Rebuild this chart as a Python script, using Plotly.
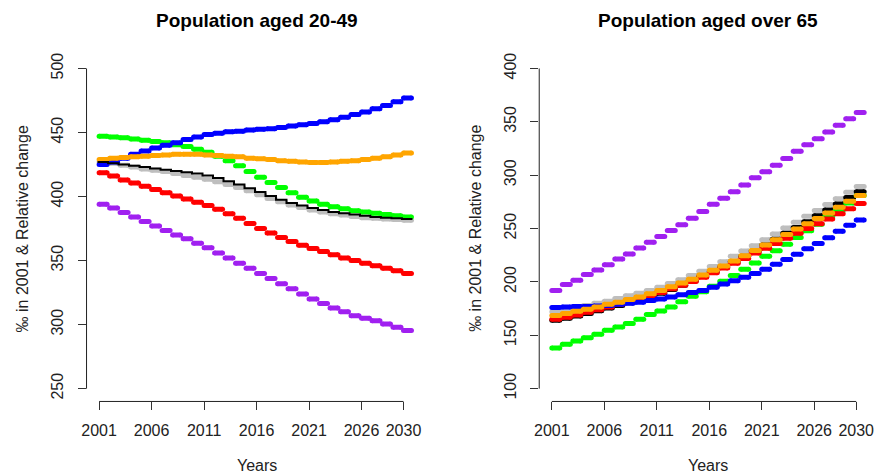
import plotly.graph_objects as go

# Projection years and axis labels
years = list(range(2001, 2031))
x_tickvals = [2001, 2006, 2011, 2016, 2021, 2026, 2030]
y_ticks_young = [250, 300, 350, 400, 450, 500]
y_ticks_old = [100, 150, 200, 250, 300, 350, 400]

# Population aged 20-49 (per mille)
young_gray = [427, 426, 424.5, 423, 421.5, 420.5, 419.5, 418, 416.5, 415, 413.5, 411.5, 409.5, 407, 404.5,
              401.5, 398.5, 396, 393.5, 391.5, 389.5, 388, 386.5, 385.5, 384.5, 383.5, 383, 382.5, 382, 381.5]
young_black = [427, 426, 425, 424, 423, 422, 421, 420, 419, 418, 416.5, 414.5, 412, 409.5, 406.5,
               403.5, 400.5, 397.5, 395, 393, 391, 389.5, 388, 387, 386, 385, 384, 383.5, 383, 382.5]
young_red = [418.5, 416, 413, 410.5, 408, 405.5, 403, 400.5, 398, 395.5, 393, 390, 386.5, 383, 379,
             375, 371.5, 368, 365, 362, 359.5, 357, 354.5, 352, 350, 348, 346, 344, 342, 340]
young_green = [447, 446.5, 446, 445, 444, 443, 442, 440.5, 439, 437, 434.5, 431.5, 428, 424, 419.5,
               415, 411, 407, 403, 399.5, 396.5, 394, 392, 390.5, 389, 388, 387, 386, 385, 384]
young_blue = [425, 427, 430, 433, 435.5, 438, 440, 442, 444.5, 446.5, 448.5, 449.5, 450.5, 451, 452,
              452.5, 453, 454, 455, 456, 457, 458.5, 460, 462, 464, 466, 468.5, 471, 474, 477]
young_orange = [429, 430, 430.5, 431, 431.5, 432, 432.5, 433, 433, 433, 432.5, 432, 431.5, 431, 430,
                429.5, 429, 428, 427.5, 427, 426.5, 426.5, 427, 427.5, 428, 429, 430, 431, 432.5, 434]
young_purple = [394, 391, 387.5, 384, 380.5, 377, 373.5, 370, 367, 363.5, 360, 356, 352, 348, 344,
                340, 336, 332, 328, 324, 320, 316.5, 313, 310, 307, 305, 303, 300.5, 298, 295.5]

# Population aged over 65 (per mille)
old_gray = [172, 174, 176, 178, 180, 182, 184.5, 187, 189.5, 192, 195, 198.5, 202, 206, 210,
            214.5, 219, 224, 229, 234, 239.5, 245, 250.5, 256, 261.5, 267, 272.5, 278, 284, 289.5]
old_black = [164, 166, 168, 170.5, 173, 175.5, 178, 180.5, 183, 186, 189.5, 193, 197, 201, 205,
             209.5, 214, 219, 224, 229, 234.5, 240, 245.5, 251, 256.5, 262, 267.5, 273, 279, 284.5]
old_green = [138, 141.7, 144.7, 147.8, 151, 154.7, 157.8, 161, 165, 169.5, 172.7, 176.5, 181.5, 186.5, 190.7,
             196, 200.6, 206, 212, 217.7, 224, 229.3, 235.4, 241.7, 248, 254, 261, 267, 274, 281]
old_red = [165, 167, 169, 171.5, 174, 176.5, 179, 181.5, 184, 187, 190, 193.5, 197, 200.5, 204.5,
           208.5, 213, 217.5, 222, 227, 231.5, 236, 241, 245.5, 250, 254.5, 259, 264, 268.5, 273.5]
old_blue = [176, 176.5, 177, 177, 177.5, 178, 179, 180, 181, 182.5, 184, 186, 188, 190, 192,
            195, 198, 201, 204.5, 208, 212, 216.5, 221, 226, 231, 236, 241.5, 247.5, 253, 258]
old_orange = [168.5, 170.5, 172.5, 174.5, 176.5, 179, 181, 183.5, 186, 189, 192, 195.5, 199, 202.5, 206.5,
              211, 215, 219.5, 224.5, 229.5, 234.5, 239.5, 244.5, 249.5, 254.5, 259.5, 264.5, 270, 275.5, 281]
old_purple = [192, 197.6, 201.6, 206.9, 211.2, 216.2, 221.4, 226.1, 231.7, 237.3, 242.6, 248.2, 253.5, 259.7, 265.9,
              272.7, 278.3, 284.5, 290.8, 297.6, 303.2, 309.4, 315.6, 322.4, 328.6, 334.2, 340.4, 346.7, 352.9, 358.8]

COL = {"gray": "#BEBEBE", "black": "#000000", "red": "#FF0000", "green": "#00FF00",
       "blue": "#0000FF", "orange": "#FFA500", "purple": "#A020F0"}

LW = 5          # thick step width
STEP = 0.76     # horizontal extent of each yearly step (in years)

fig = go.Figure()


def steps(values, color, xa, ya):
    """One flat dash per year, with round ends made from markers."""
    xs, ys = [], []
    for t, v in zip(years, values):
        xs += [t, t + STEP, None]
        ys += [v, v, None]
    fig.add_trace(go.Scatter(
        x=xs, y=ys, mode="lines+markers", xaxis=xa, yaxis=ya,
        line=dict(color=color, width=LW),
        marker=dict(color=color, size=LW, line=dict(width=0)),
        hoverinfo="skip", showlegend=False))


def thin_step(values, color, xa, ya):
    xs = [t - 0.15 for t in years] + [years[-1] + 0.85]
    ys = list(values) + [values[-1]]
    fig.add_trace(go.Scatter(
        x=xs, y=ys, mode="lines", xaxis=xa, yaxis=ya, line_shape="hv",
        line=dict(color=color, width=2), hoverinfo="skip", showlegend=False))


# Left panel: 20-49
steps(young_gray, COL["gray"], "x", "y")
steps(young_red, COL["red"], "x", "y")
steps(young_green, COL["green"], "x", "y")
steps(young_blue, COL["blue"], "x", "y")
steps(young_purple, COL["purple"], "x", "y")
steps(young_orange, COL["orange"], "x", "y")
thin_step(young_black, COL["black"], "x", "y")

# Right panel: over 65
steps(old_gray, COL["gray"], "x2", "y2")
steps(old_black, COL["black"], "x2", "y2")
steps(old_green, COL["green"], "x2", "y2")
steps(old_red, COL["red"], "x2", "y2")
steps(old_blue, COL["blue"], "x2", "y2")
steps(old_orange, COL["orange"], "x2", "y2")
steps(old_purple, COL["purple"], "x2", "y2")

W, H = 876, 475
FONT = "Liberation Sans, Arial, sans-serif"
TICKFONT = dict(family=FONT, size=16, color="#222")

xcommon = dict(showgrid=False, zeroline=False, showline=False, ticks="outside", ticklen=8,
               tickwidth=1, tickcolor="#333", tickvals=x_tickvals, tickfont=TICKFONT,
               ticklabelstandoff=6)
ycommon = dict(showgrid=False, zeroline=False, showline=False, ticks="outside", ticklen=8,
               tickwidth=1, tickcolor="#333", tickfont=TICKFONT, tickangle=-90,
               ticklabelstandoff=8)

ydom = [1 - 401 / H, 1 - 53 / H]
fig.update_layout(
    width=W, height=H, margin=dict(l=0, r=0, t=0, b=0),
    paper_bgcolor="white", plot_bgcolor="white",
    xaxis=dict(domain=[82 / W, 424 / W], range=[1999.8, 2032.2], anchor="y", **xcommon),
    yaxis=dict(domain=ydom, range=[240, 510], anchor="x", tickvals=y_ticks_young, **ycommon),
    xaxis2=dict(domain=[537.3 / W, 1.0], range=[1999.8, 1999.8 + (W - 537.3) / 10.556],
                anchor="y2", **xcommon),
    yaxis2=dict(domain=ydom, range=[88, 412], anchor="x2", tickvals=y_ticks_old, **ycommon),
)

# Axis lines spanning only the tick range
for xa, ya, yt in (("x", "y", y_ticks_young), ("x2", "y2", y_ticks_old)):
    fig.add_shape(type="line", xref=xa, yref=f"{ya} domain", x0=x_tickvals[0], x1=x_tickvals[-1],
                  y0=0, y1=0, line=dict(color="#222", width=1))
    fig.add_shape(type="line", xref=f"{xa} domain", yref=ya, x0=0, x1=0,
                  y0=yt[0], y1=yt[-1], line=dict(color="#222", width=1))

# Titles and axis labels
for xa, title, ytx in (("x", "Population aged 20-49", 18 / W), ("x2", "Population aged over 65", 473 / W)):
    fig.add_annotation(xref=f"{xa} domain", yref="paper", x=0.5, y=1 - 18 / H, text=f"<b>{title}</b>",
                       showarrow=False, font=dict(family=FONT, size=19, color="black"),
                       xanchor="center", yanchor="middle")
    fig.add_annotation(xref=f"{xa} domain", yref="paper", x=0.5, y=1 - 465 / H, text="Years",
                       showarrow=False, font=dict(family=FONT, size=16, color="#222"),
                       xanchor="center", yanchor="middle")
    fig.add_annotation(xref="paper", yref="paper", x=ytx, y=1 - 227 / H,
                       text="\u2030 in 2001 & Relative change", textangle=-90,
                       showarrow=False, font=dict(family=FONT, size=16, color="#222"),
                       xanchor="center", yanchor="middle")

fig.write_html("out.html")
